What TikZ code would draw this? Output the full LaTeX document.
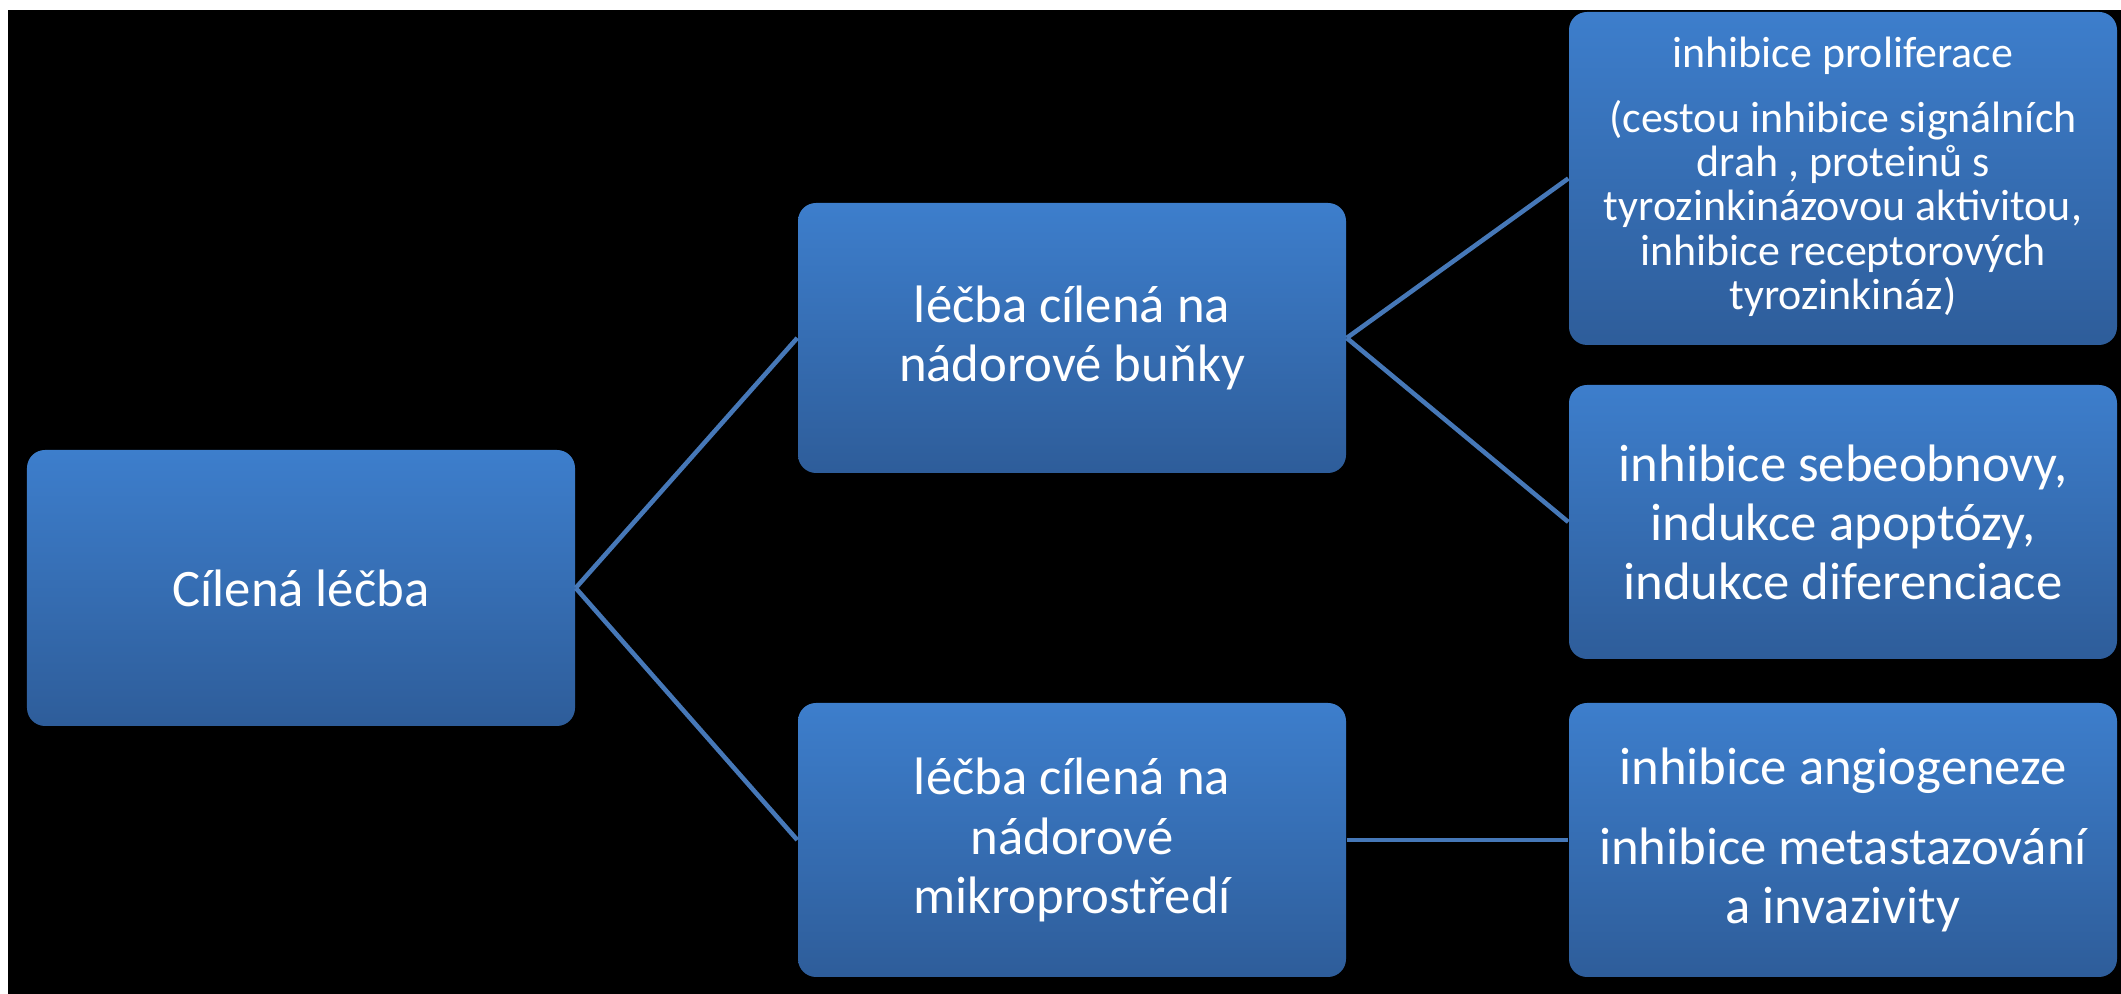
\documentclass[tikz,border=0pt]{standalone}
\usepackage{fontspec}
\setmainfont{Carlito}

\definecolor{boxtop}{RGB}{61,126,204}
\definecolor{boxbot}{RGB}{46,93,154}
\definecolor{spoj}{RGB}{70,120,184}

\tikzset{
    blok/.style={rounded corners=0.18cm, top color=boxtop, bottom color=boxbot,
        text=white, align=center, inner sep=0pt,
        minimum width=5.48cm, minimum height=2.74cm,
        font=\fontsize{15}{16.8}\selectfont},
    spojnice/.style={draw=spoj, line width=1.3pt}
}

\begin{document}
\begin{tikzpicture}
\useasboundingbox ( 0, 0 ) rectangle ( 21.21, 9.94 );

% pozadí
            \fill [white] ( 0, 0 ) rectangle ( 21.21, 9.94 );
            \fill [black] ( 0.08, 0 ) rectangle ( 21.21, 9.84 );

% levý blok
            \node [blok, minimum height=2.76cm] (cil) at ( 3.01, 4.06 ) {Cílená léčba};

% prostřední bloky
            \node [blok, minimum height=2.70cm] (bunky) at ( 10.72, 6.56 ) {léčba cílená na\\nádorové buňky};
            \node [blok] (mikro) at ( 10.72, 1.54 ) {léčba cílená na\\nádorové\\mikroprostředí};

% pravé bloky
            \node [blok, minimum height=3.33cm, font=\fontsize{12.5}{12.6}\selectfont] (prolif) at ( 18.43, 8.155 )
                {inhibice proliferace\\[0.2cm](cestou inhibice signálních\\drah , proteinů s\\tyrozinkinázovou aktivitou,\\inhibice receptorových\\tyrozinkináz)\\[-0.34cm]\mbox{}};
            \node [blok] (sebe) at ( 18.43, 4.72 ) {inhibice sebeobnovy,\\indukce apoptózy,\\indukce diferenciace};
            \node [blok] (angio) at ( 18.43, 1.54 ) {inhibice angiogeneze\\[0.2cm]inhibice metastazování\\a invazivity};

% spojnice
            \draw [spojnice] (cil.east) -- (bunky.west);
            \draw [spojnice] (cil.east) -- (mikro.west);
            \draw [spojnice] (bunky.east) -- (prolif.west);
            \draw [spojnice] (bunky.east) -- (sebe.west);
            \draw [spojnice] (mikro.east) -- (angio.west);
        \end{tikzpicture}
\end{document}
